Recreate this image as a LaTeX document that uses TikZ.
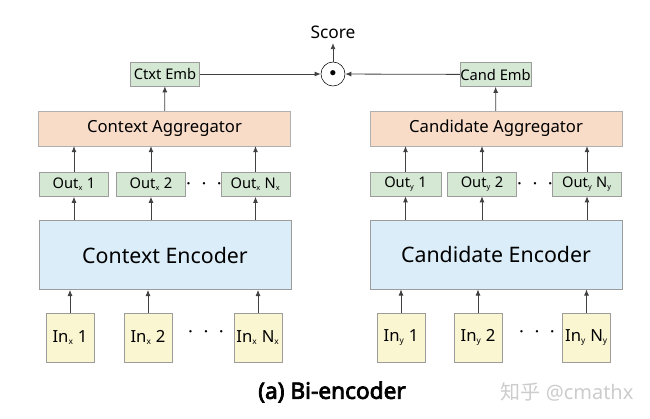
\documentclass[tikz,border=0pt]{standalone}
\usepackage{fontspec}
\setmainfont{Noto Sans}[AutoFakeBold=3.2]
\newfontfamily\cjkfont{Noto Sans CJK SC}
\usepackage{tikz}
\usetikzlibrary{positioning,arrows.meta,calc}
\definecolor{embgreen}{HTML}{D5E8D4}
\definecolor{agghue}{HTML}{F9DCC8}
\definecolor{enchue}{HTML}{DAEDF8}
\definecolor{inhue}{HTML}{FAF6D2}
\definecolor{edgegray}{HTML}{9C9C9C}
\newcommand{\sbx}[1]{$_{\scriptscriptstyle\mathrm{#1}}$}
\tikzset{
  emb/.style={draw=edgegray, fill=embgreen, inner sep=0pt, font=\fontsize{11}{12}\selectfont,
              minimum height=18pt},
  agg/.style={draw=edgegray!80, fill=agghue, inner sep=0pt, font=\fontsize{12.5}{14}\selectfont,
              minimum width=189pt, minimum height=26pt},
  enc/.style={draw=edgegray, fill=enchue, inner sep=0pt, font=\fontsize{16}{18}\selectfont,
              minimum width=189pt, minimum height=52pt},
  inbox/.style={draw=edgegray, fill=inhue, inner sep=0pt, font=\fontsize{12.5}{14}\selectfont,
                minimum width=36pt, minimum height=37pt},
  ellip/.style={inner sep=0pt, font=\fontsize{17}{19}\selectfont},
  flowarr/.style={-{Latex[length=1.6mm,width=1.3mm]}, line width=0.6pt, draw=black!75},
}

\begin{document}
\begin{tikzpicture}[x=0.75pt,y=-0.75pt]
  \useasboundingbox (0,0) rectangle (650,418);
  % top: score
  \node[draw, circle, minimum size=18pt, inner sep=0pt] (dot) at (333,74) {$\bullet$};
  \node[font=\fontsize{13}{15}\selectfont] (score) at (333,32) {Score};
  \node[emb, minimum width=52pt] (ctxemb) at (165,74) {Ctxt Emb};
  \node[emb, minimum width=53pt] (candemb) at (495.5,74.5) {Cand Emb};
  % LEFT: context side
  \node[agg] (ctxagg) at (164.5,128.5) {Context Aggregator};
  \node[emb, minimum width=52pt] (outx1) at (74,184.5) {Out\sbx{x} 1};
  \node[emb, minimum width=52pt] (outx2) at (151,184.5) {Out\sbx{x} 2};
  \node[emb, minimum width=52pt] (outxn) at (255.5,184.5) {Out\sbx{x} N\sbx{x}};
  \node[ellip] (dotsox) at (204,184) {$\cdot\,\cdot\,\cdot$};
  \node[enc] (ctxenc) at (165,255) {Context Encoder};
  \node[inbox] (inx1) at (70,337.5) {In\sbx{x} 1};
  \node[inbox] (inx2) at (148,337.5) {In\sbx{x} 2};
  \node[inbox] (inxn) at (258,337.5) {In\sbx{x} N\sbx{x}};
  \node[ellip] (dotsix) at (206,332) {$\cdot\,\cdot\,\cdot$};
  % RIGHT: candidate side
  \node[agg] (candagg) at (496,128.5) {Candidate Aggregator};
  \node[emb, minimum width=53pt] (outy1) at (405.5,184) {Out\sbx{y} 1};
  \node[emb, minimum width=52pt] (outy2) at (482,184) {Out\sbx{y} 2};
  \node[emb, minimum width=52pt] (outyn) at (587,184) {Out\sbx{y} N\sbx{y}};
  \node[ellip] (dotsoy) at (535,184) {$\cdot\,\cdot\,\cdot$};
  \node[enc] (candenc) at (496,254.5) {Candidate Encoder};
  \node[inbox] (iny1) at (401,337.5) {In\sbx{y} 1};
  \node[inbox] (iny2) at (478,337.5) {In\sbx{y} 2};
  \node[inbox] (inyn) at (586.5,337.5) {In\sbx{y} N\sbx{y}};
  \node[ellip] (dotsiy) at (537,332) {$\cdot\,\cdot\,\cdot$};
  % arrows
  \draw[flowarr] (dot) -- (score);
  \draw[flowarr] (ctxemb) -- (dot);
  \draw[flowarr] (candemb) -- (dot);
  \draw[flowarr] (ctxagg) -- (ctxemb);
  \draw[flowarr] (candagg) -- (candemb);
  \foreach \o/\i in {outx1/inx1, outx2/inx2, outxn/inxn} {
    \draw[flowarr] (\o.north) -- (\o |- ctxagg.south);
    \draw[flowarr] (\o |- ctxenc.north) -- (\o.south);
    \draw[flowarr] (\i.north) -- (\i |- ctxenc.south);
  }
  \foreach \o/\i in {outy1/iny1, outy2/iny2, outyn/inyn} {
    \draw[flowarr] (\o.north) -- (\o |- candagg.south);
    \draw[flowarr] (\o |- candenc.north) -- (\o.south);
    \draw[flowarr] (\i.north) -- (\i |- candenc.south);
  }
  % caption and mark
  \node[font=\fontsize{17}{20}\selectfont\bfseries] (caption) at (332,392) {(a) Bi-encoder};
  \node[font=\fontsize{15}{17}\selectfont, text=black!20] (mark) at (567,392) {{\cjkfont 知乎} @cmathx};
\end{tikzpicture}
\end{document}
